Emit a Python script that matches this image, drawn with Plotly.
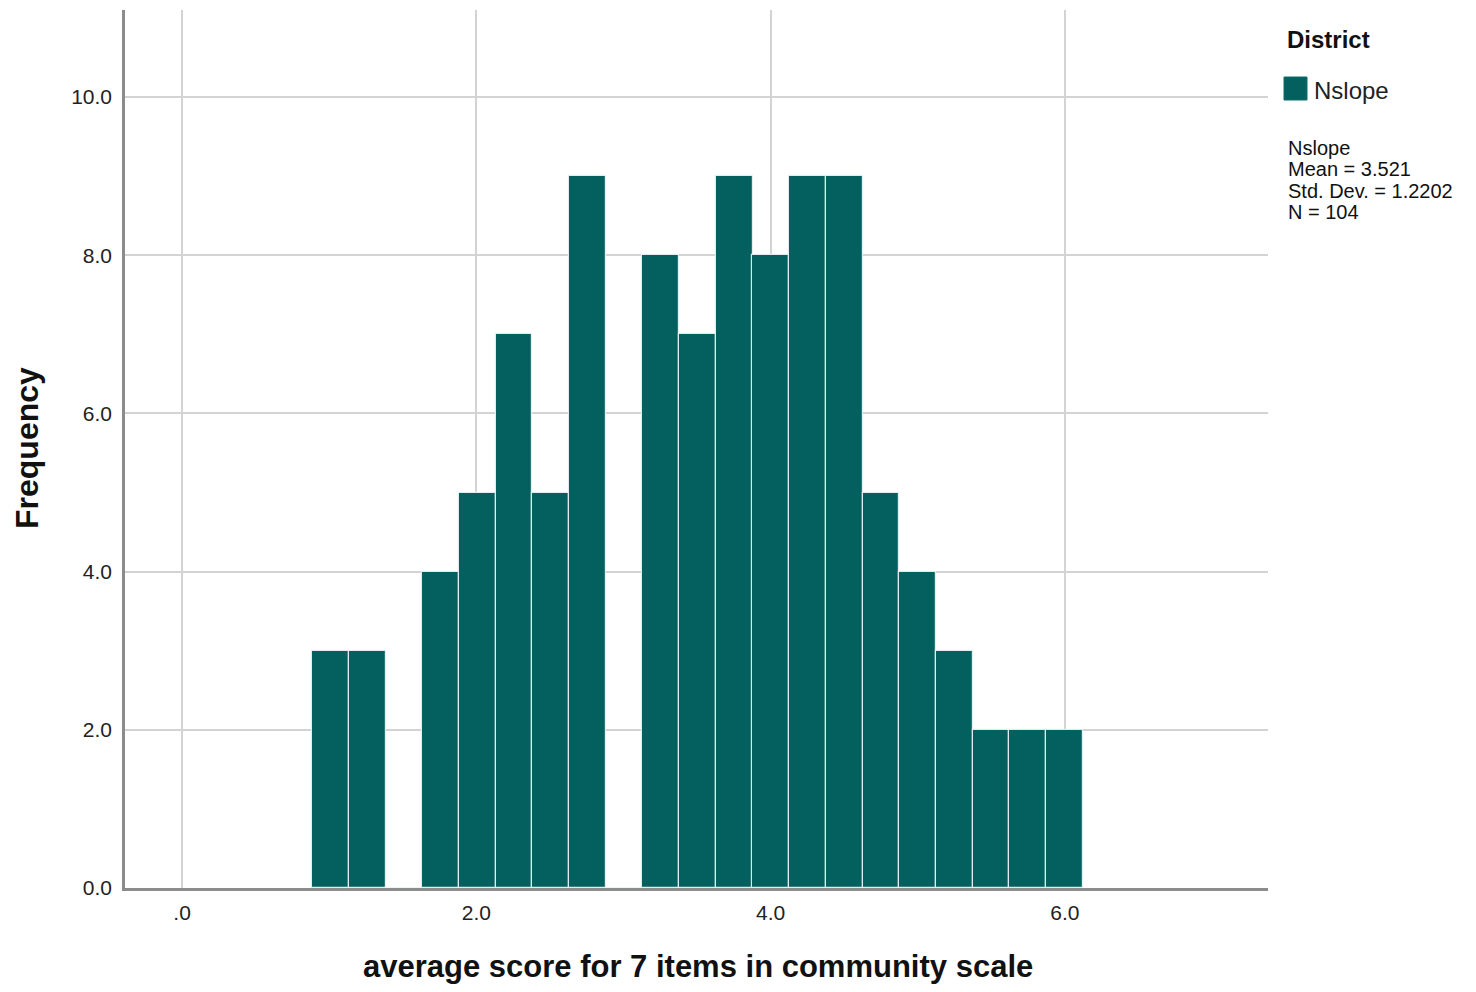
import plotly.graph_objects as go

# Histogram data (bins of width ~0.25 starting at ~0.884)
bin_centers = [1.009, 1.258, 1.507, 1.757, 2.006, 2.256, 2.505, 2.754, 3.004, 3.253,
               3.503, 3.752, 4.001, 4.251, 4.500, 4.750, 4.999, 5.248, 5.498, 5.747, 5.997]
counts = [3, 3, 0, 4, 5, 7, 5, 9, 0, 8, 7, 9, 8, 9, 9, 5, 4, 3, 2, 2, 2]
bin_width = 0.2494

x_tickvals = [0, 2, 4, 6]
x_ticktext = [".0", "2.0", "4.0", "6.0"]
y_tickvals = [0, 2, 4, 6, 8, 10]
y_ticktext = ["0.0", "2.0", "4.0", "6.0", "8.0", "10.0"]

series_name = "Nslope"
legend_title = "District"
stats_lines = ["Nslope", "Mean = 3.521", "Std. Dev. = 1.2202", "N = 104"]

BAR_COLOR = "#04605E"
FONT = "Liberation Sans, Arial, sans-serif"

PAGE_W, PAGE_H = 1476, 992
OFF = 8  # default body margin of the html page
W, H = PAGE_W - 2 * OFF, PAGE_H - 2 * OFF

# plot area in page pixels
PL, PR, PT, PB = 125, 1268, 10, 888
ML, MR, MT, MB = PL - OFF, W - (PR - OFF), PT - OFF, H - (PB - OFF)
PW = PR - PL
PH = PB - PT


def px_x(px):
    return (px - PL) / PW


def px_y(py):
    return (PB - py) / PH


fig = go.Figure()
fig.add_trace(go.Bar(
    x=bin_centers, y=counts, width=[bin_width] * len(counts),
    marker=dict(color=BAR_COLOR, line=dict(color="rgba(235,245,245,0.9)", width=1.2)),
    showlegend=False, hoverinfo="x+y",
))

fig.update_layout(
    width=W, height=H,
    margin=dict(l=ML, r=MR, t=MT, b=MB),
    paper_bgcolor="white", plot_bgcolor="white",
    font=dict(family=FONT, color="#222222"),
    bargap=0,
    xaxis=dict(
        range=[-0.388, 7.38], tickvals=x_tickvals, ticktext=x_ticktext,
        showgrid=True, gridcolor="#d3d3d3", gridwidth=2,
        showline=True, linecolor="#8c8c8c", linewidth=2.5,
        ticks="", tickfont=dict(size=21, color="#222222"), zeroline=False,
        ticklabelstandoff=4,
    ),
    yaxis=dict(
        range=[0, 11.1], tickvals=y_tickvals, ticktext=y_ticktext,
        showgrid=True, gridcolor="#d3d3d3", gridwidth=2,
        showline=True, linecolor="#8c8c8c", linewidth=2.5,
        ticks="", tickfont=dict(size=21, color="#222222"), zeroline=False,
        ticklabelstandoff=6,
    ),
)

annotations = [
    dict(text="<b>Frequency</b>", x=px_x(27), y=px_y(448), xref="paper", yref="paper",
         textangle=-90, showarrow=False, font=dict(size=32, color="#111111"),
         xanchor="center", yanchor="middle"),
    dict(text="<b>average score for 7 items in community scale</b>", x=px_x(698), y=px_y(966),
         xref="paper", yref="paper", showarrow=False, font=dict(size=31, color="#111111"),
         xanchor="center", yanchor="middle"),
    dict(text="<b>" + legend_title + "</b>", x=px_x(1285), y=px_y(40), xref="paper", yref="paper",
         showarrow=False, font=dict(size=24, color="#111111"), xanchor="left", yanchor="middle"),
    dict(text=series_name, x=px_x(1312), y=px_y(91), xref="paper", yref="paper",
         showarrow=False, font=dict(size=24, color="#222222"), xanchor="left", yanchor="middle"),
]
stat_y = [148, 169, 191, 212]
for line, yy in zip(stats_lines, stat_y):
    annotations.append(dict(text=line, x=px_x(1286), y=px_y(yy), xref="paper", yref="paper",
                            showarrow=False, font=dict(size=20, color="#111111"),
                            xanchor="left", yanchor="middle", align="left"))
fig.update_layout(annotations=annotations)

fig.add_shape(type="rect", xref="paper", yref="paper",
              x0=px_x(1284), x1=px_x(1307), y0=px_y(100), y1=px_y(77),
              fillcolor=BAR_COLOR, line=dict(color="#0b6f6d", width=1))

fig.write_html("out.html")
